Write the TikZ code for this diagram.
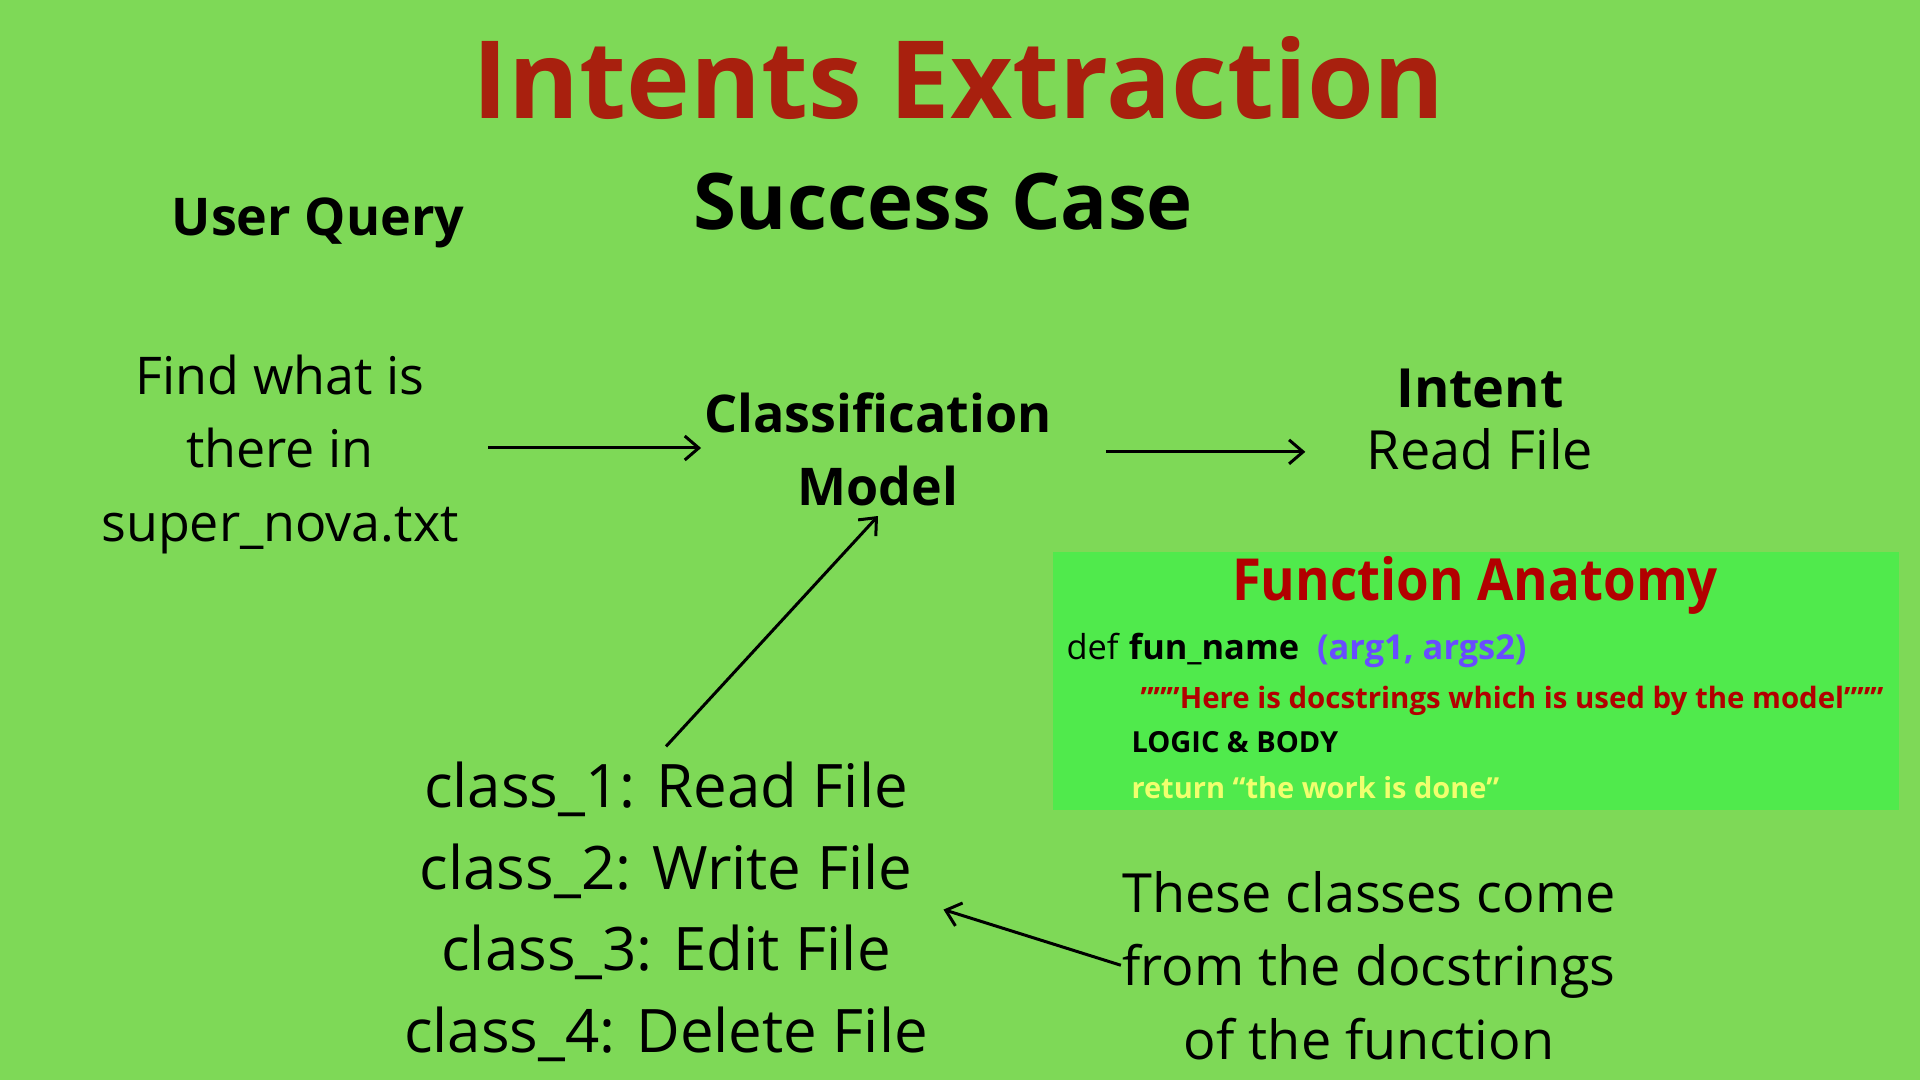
\documentclass[tikz,border=0pt]{standalone}
\usepackage{fontspec}
\setmainfont{Open Sans}
\newfontfamily\narrowfont{Open Sans}[FakeStretch=0.91]
\usetikzlibrary{arrows.meta}

\tikzset{every picture/.style={line width=1.5pt}}
\tikzset{
flow arrow/.style={-{Straight Barb[length=7pt,width=12pt]}, color=black},
big text/.style={inner sep=0pt, align=center, font=\fontsize{26}{36.75}\selectfont},
code line/.style={anchor=base west, inner sep=0pt}}

\begin{document}
\begin{tikzpicture}[x=0.5pt,y=0.5pt,yscale=-1,xscale=1]
%Shape: Background
\path [use as bounding box, fill={rgb, 255:red, 126; green, 217; blue, 87 }] (0,0) rectangle (1920,1080);

% Text Node
\node (title) [anchor=base, inner sep=0pt, color={rgb, 255:red, 168; green, 32; blue, 14 }, font=\fontsize{54}{60}\selectfont\bfseries] at (959,119) {Intents Extraction};
% Text Node
\node (case) [anchor=base, inner sep=0pt, font=\fontsize{39}{44}\selectfont\bfseries] at (943,230) {Success Case};
% Text Node
\node (userq) [anchor=base, inner sep=0pt, font=\fontsize{26}{30}\selectfont\bfseries] at (318,236) {User Query};
% Text Node (base = last line)
\node (query) [big text, anchor=base, inner xsep=14pt] at (280,541) {Find what is\\there in\\super\_nova.txt};
% Text Node
\node (model) [big text, anchor=base, inner xsep=1pt, inner ysep=4.5pt, font=\fontsize{26}{36.5}\selectfont\bfseries] at (878,505) {Classification\\Model};
% Text Node
\node (intent) [big text, anchor=base, font=\fontsize{27}{31}\selectfont] at (1480,469) {\textbf{Intent}\\Read File};
% Text Node
\node (classes) [big text, anchor=base, inner sep=7pt, font=\fontsize{30}{40.75}\selectfont] at (666,1052) {class\_1: Read File\\class\_2: Write File\\class\_3: Edit File\\class\_4: Delete File};
% Text Node
\node (note) [big text, anchor=base, font=\fontsize{27}{36.75}\selectfont] at (1369,1059) {These classes come\\from the docstrings\\of the function};

%Shape: Rectangle
\path [fill={rgb, 255:red, 80; green, 234; blue, 76 }] (1053,552) rectangle (1899,810);
% Text Node
\node (anatomy) [anchor=base, inner sep=0pt, color={rgb, 255:red, 178; green, 0; blue, 0 }, font=\fontsize{29}{32}\selectfont\narrowfont\bfseries] at (1475,600) {Function Anatomy};
% Text Node
\node (defline) [code line, font=\fontsize{17.2}{20}\selectfont] at (1065,659) {def \textbf{fun\_name}\ \ \textcolor[RGB]{104,76,255}{\bfseries(arg1, args2)}};
% Text Node
\node (docline) [code line, color={rgb, 255:red, 178; green, 0; blue, 0 }, font=\fontsize{14.7}{18}\selectfont\bfseries] at (1139,708) {”””Here is docstrings which is used by the model”””};
% Text Node
\node (logicline) [code line, font=\fontsize{14.5}{18}\selectfont\bfseries] at (1130,752) {LOGIC \& BODY};
% Text Node
\node (returnline) [code line, color={rgb, 255:red, 240; green, 255; blue, 110 }, font=\fontsize{14.5}{18}\selectfont\bfseries] at (1130,798) {return “the work is done”};

%Straight Lines
\draw [flow arrow] ([yshift=-3pt]query.east) -- ([yshift=-3pt]query.east -| model.west);
\draw [flow arrow, shorten <=25.5pt, shorten >=30pt] ([yshift=1.5pt]model.east) -- ([yshift=1.5pt]model.east -| intent.west);
\draw [flow arrow] (classes.north) -- (model.south);
\draw [flow arrow] (note.west) -- ([yshift=-1pt]classes.east);

\end{tikzpicture}
\end{document}
